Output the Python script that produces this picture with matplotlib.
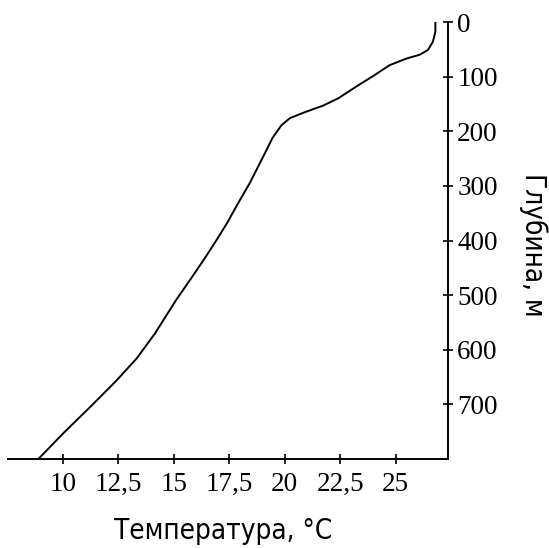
import numpy as np
import matplotlib.pyplot as plt

# Temperature profile
temperature = [8.89, 10.01, 11.22, 12.42, 13.32, 14.15, 15.1, 15.68, 16.27,
               16.88, 17.4, 17.85, 18.42, 18.87, 19.18, 19.45, 19.85, 20.23,
               20.98, 21.73, 22.4, 23.23, 23.98, 24.73, 25.48, 26.08, 26.46,
               26.68, 26.79, 26.79]
depth = [800, 753, 705, 656, 616, 570, 509, 475, 440,
         402, 368, 335, 295, 259, 234, 212, 189, 176,
         164, 153, 140, 118, 99, 79, 67, 60, 51,
         36, 18, 0]

x_ticks = [10, 12.5, 15, 17.5, 20, 22.5, 25]
x_tick_labels = ['10', '12,5', '15', '17,5', '20', '22,5', '25']
y_ticks = [0, 100, 200, 300, 400, 500, 600, 700]

fig = plt.figure(figsize=(5.49, 5.48), dpi=100)
ax = fig.add_axes([8 / 549, 1 - 459 / 548, 440 / 549, 437 / 548])

ax.plot(temperature, depth, color='black', lw=1.4,
        solid_joinstyle='round', solid_capstyle='round')

ax.set_xlim(7.52, 27.36)
ax.set_ylim(800, 0)

# Only the bottom and right axis lines are drawn
ax.spines['top'].set_visible(False)
ax.spines['left'].set_visible(False)
ax.spines['bottom'].set_linewidth(1.4)
ax.spines['right'].set_linewidth(1.4)

ax.yaxis.tick_right()
ax.set_xticks(x_ticks)
ax.set_xticklabels(x_tick_labels)
ax.set_yticks(y_ticks)
ax.tick_params(direction='inout', length=7.2, width=1.2, colors='black')
ax.tick_params(axis='x', pad=6)
ax.tick_params(axis='y', pad=3)
for lbl in ax.get_xticklabels() + ax.get_yticklabels():
    lbl.set_fontfamily('Liberation Serif')
    lbl.set_fontsize(19.5)

label_font = dict(family='DejaVu Sans', stretch='condensed', weight='light', size=20)
ax.set_xlabel('Температура, °C', fontdict=label_font, ha='center', va='center')
ax.xaxis.set_label_coords(0.49, -0.165)
ax.yaxis.set_label_position('right')
ax.set_ylabel('Глубина, м', fontdict=label_font, rotation=270, ha='center', va='center')
ax.yaxis.set_label_coords(1.193, 0.49)

fig.savefig('out.png', dpi=100)
